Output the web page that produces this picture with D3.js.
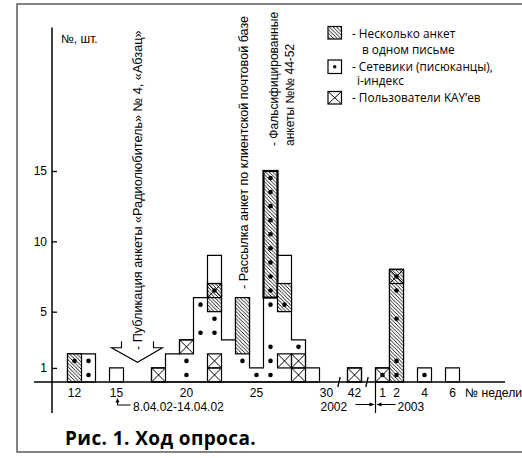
<!DOCTYPE html>
<html><head><meta charset="utf-8">
<script src="https://cdn.jsdelivr.net/npm/d3@7"></script>
<style>
html,body{margin:0;padding:0;background:#fff;}
svg{display:block;}
</style>
</head><body>
<svg id="chart" width="522" height="458"></svg>
<script>
// ---------------- data ----------------
const weekKeys = ["w12","w13","w14","w15","w16","w17","w18","w19","w20","w21","w22","w23","w24","w25","w26","w27","w28","w29","w30","br1","w42","br2","n1","n2","n3","n4","n5","n6"];
const tickKeys = ["w12","w15","w20","w25","w30","w42","n1","n2","n4","n6"];
const tickLabels = ["12","15","20","25","30","42","1","2","4","6"];
const totals = [2,2,0,1,0,0,1,2,3,6,9,3,6,1,15,9,3,1,0,0,1,0,1,8,0,1,0,1];
// "several questionnaires in one letter" (hatched blocks)
const hatchedWeeks = ["w12","w22","w24","w26","w27","n2"];
const hatchedFrom  = [0,5,2,6,5,0];
const hatchedTo    = [2,7,6,15,7,8];
// KAY users (crossed cells)
const crossWeeks = ["w18","w20","w22","w22","w22","w27","w28","w28","w42","n1","n2"];
const crossUnits = [0,2,0,1,6,1,0,1,0,0,7];
// networkers (dots)
const dotWeeks = ["w12","w13","w13","w20","w20","w21","w21","w22","w22","w22","w24","w25",
  "w26","w26","w26","w26","w26","w26","w26","w26","w26","w26","w26","w26","w26",
  "w27","w28","n1","n2","n2","n2","n2","n2","n4"];
const dotUnits = [1,0,1,0,1,3,5,3,4,6,1,0,
  0,1,2,5,6,7,8,9,10,11,12,13,14,
  5,2,0,0,1,4,6,7,0];
const yTicks = [1,5,10,15];
const breakKeys = ["br1","br2"];

// ---------------- drawing ----------------
const svg = d3.select("#chart");
const AX = "'Liberation Sans', Arial, sans-serif";
const LG = "'Open Sans', sans-serif";

const defs = svg.append("defs");
const pat = defs.append("pattern").attr("id","hatch").attr("patternUnits","userSpaceOnUse")
  .attr("width",3.6).attr("height",3.6);
pat.append("rect").attr("width",3.6).attr("height",3.6).attr("fill","#fff");
pat.append("path").attr("d","M-1,-1L4.6,4.6M-1,2.6L1,4.6M2.6,-1L4.6,1")
  .attr("stroke","#000").attr("stroke-width",0.9);

// frame
svg.append("rect").attr("x",17).attr("y",4).attr("width",540).attr("height",448)
  .attr("fill","none").attr("stroke","#666").attr("stroke-width",1.6);

const x = d3.scaleBand().domain(weekKeys).range([67.5,459.5]).paddingInner(0).paddingOuter(0);
const bw = x.bandwidth();
const y = d3.scaleLinear().domain([0,15]).range([382,171]);

const g = svg.append("g");

// step outline of totals
let runs = [], cur = null;
weekKeys.forEach((k,i)=>{ if(totals[i]>0){ if(!cur){cur=[];runs.push(cur);} cur.push(i);} else cur=null; });
runs.forEach(run=>{
  const p = d3.path();
  p.moveTo(x(weekKeys[run[0]]), y(0));
  run.forEach(i=>{ const k = weekKeys[i]; p.lineTo(x(k), y(totals[i])); p.lineTo(x(k)+bw, y(totals[i])); });
  p.lineTo(x(weekKeys[run[run.length-1]])+bw, y(0));
  p.closePath();
  g.append("path").attr("d",p.toString()).attr("fill","#fff").attr("stroke","#000").attr("stroke-width",1.2);
});

// hatched blocks
hatchedWeeks.forEach((k,i)=>{
  g.append("rect").attr("x",x(k)).attr("y",y(hatchedTo[i])).attr("width",bw)
    .attr("height",y(hatchedFrom[i])-y(hatchedTo[i]))
    .attr("fill","url(#hatch)").attr("stroke","#000").attr("stroke-width",k==="w26"?2.2:1.2);
});

// crossed cells
crossWeeks.forEach((k,i)=>{
  const x0=x(k), x1=x0+bw, yT=y(crossUnits[i]+1), yB=y(crossUnits[i]);
  g.append("rect").attr("x",x0).attr("y",yT).attr("width",bw).attr("height",yB-yT)
    .attr("fill","none").attr("stroke","#000").attr("stroke-width",1.2);
  g.append("path").attr("d",`M${x0},${yT}L${x1},${yB}M${x0},${yB}L${x1},${yT}`)
    .attr("stroke","#000").attr("stroke-width",1);
});

// dots
dotWeeks.forEach((k,i)=>{
  g.append("circle").attr("cx",x(k)+bw/2).attr("cy",y(dotUnits[i]+0.5)).attr("r",2.3).attr("fill","#000");
});

// y axis
const yAxis = d3.axisLeft(y).tickValues(yTicks).tickSizeInner(-5).tickSizeOuter(0).tickPadding(5);
const ya = svg.append("g").attr("transform",`translate(${52},0)`).call(yAxis);
ya.select(".domain").remove();
ya.selectAll(".tick line").attr("stroke","#000").attr("stroke-width",1.3);
ya.selectAll("text").attr("font-family",AX).attr("font-size",12).attr("fill","#000");
svg.append("line").attr("x1",52).attr("x2",52).attr("y1",y(-2.2)).attr("y2",y(25.2))
  .attr("stroke","#000").attr("stroke-width",1.5);

// x axis
const xAxis = d3.axisBottom(x).tickValues(tickKeys).tickFormat(k=>tickLabels[tickKeys.indexOf(k)])
  .tickSize(0).tickPadding(6.5);
const xa = svg.append("g").attr("transform",`translate(0,${y(0)})`).call(xAxis);
xa.select(".domain").remove();
xa.selectAll("text").attr("font-family",AX).attr("font-size",12).attr("fill","#000");
svg.append("line").attr("x1",34).attr("x2",505).attr("y1",y(0)).attr("y2",y(0))
  .attr("stroke","#000").attr("stroke-width",1.5);
// axis breaks
breakKeys.forEach(k=>{
  const cx = x(k)+bw/2-1.5;
  svg.append("line").attr("x1",cx-1.2).attr("y1",y(0)+5).attr("x2",cx+1.2).attr("y2",y(0)-5)
    .attr("stroke","#000").attr("stroke-width",1.3);
});
svg.append("text").attr("x",465).attr("y",397).attr("font-family",AX).attr("font-size",12.2).text("№ недели");

// 8.04.02-14.04.02 note
const ax15 = x("w15")+bw/2+1;
svg.append("path").attr("d",`M${ax15},400.5V405H${ax15+13}`).attr("fill","none").attr("stroke","#000").attr("stroke-width",1);
svg.append("path").attr("d",`M${ax15},398L${ax15-2},402.5L${ax15+2},402.5Z`).attr("fill","#000");
svg.append("text").attr("x",133).attr("y",411).attr("font-family",AX).attr("font-size",12).text("8.04.02-14.04.02");

// 2002 / 2003 divider
const dv = x("n1");
svg.append("line").attr("x1",dv).attr("x2",dv).attr("y1",y(0)).attr("y2",413).attr("stroke","#000").attr("stroke-width",1.2);
svg.append("line").attr("x1",dv-20).attr("x2",dv-2).attr("y1",404.5).attr("y2",404.5).attr("stroke","#000").attr("stroke-width",1);
svg.append("path").attr("d",`M${dv-1},404.5L${dv-6},402.5L${dv-6},406.5Z`).attr("fill","#000");
svg.append("line").attr("x1",dv+2).attr("x2",dv+20).attr("y1",404.5).attr("y2",404.5).attr("stroke","#000").attr("stroke-width",1);
svg.append("path").attr("d",`M${dv+1},404.5L${dv+6},402.5L${dv+6},406.5Z`).attr("fill","#000");
svg.append("text").attr("x",dv-55).attr("y",411).attr("font-family",AX).attr("font-size",12).text("2002");
svg.append("text").attr("x",dv+22).attr("y",411).attr("font-family",AX).attr("font-size",12).text("2003");

// y label
svg.append("text").attr("x",61).attr("y",43).attr("font-family",AX).attr("font-size",12).text("№, шт.");

// chevron arrow
const cx = x("w17");
svg.append("path").attr("d",`M${cx-16},${y(2.9)}V${y(2.43)}H${cx-26}L${cx},${y(1.4)}L${cx+25},${y(2.43)}H${cx+16}V${y(2.9)}`)
  .attr("fill","none").attr("stroke","#000").attr("stroke-width",1.1);

// rotated annotations
function vtext(bx, by, txt, fs){
  svg.append("text").attr("transform",`translate(${bx},${by}) rotate(-90)`)
    .attr("font-family",AX).attr("font-size",fs).attr("fill","#000").text(txt);
}
vtext(141.5, 350, "- Публикация анкеты «Радиолюбитель» № 4, «Абзац»", 12.7);
vtext(248, 289, "- Рассылка анкет по клиентской почтовой базе", 12.6);
vtext(277.5, 146, "- Фальсифицированные", 12);
vtext(294, 146, "анкеты №№ 44-52", 12);

// legend
const lg = svg.append("g");
lg.append("rect").attr("x",328).attr("y",26.5).attr("width",13.5).attr("height",12.5)
  .attr("fill","url(#hatch)").attr("stroke","#000").attr("stroke-width",1.2);
lg.append("rect").attr("x",328).attr("y",60).attr("width",13.5).attr("height",13.5)
  .attr("fill","#fff").attr("stroke","#000").attr("stroke-width",1.2);
lg.append("circle").attr("cx",334.75).attr("cy",66.75).attr("r",1.7).attr("fill","#000");
lg.append("rect").attr("x",328).attr("y",91.5).attr("width",13.5).attr("height",12.5)
  .attr("fill","#fff").attr("stroke","#000").attr("stroke-width",1.2);
lg.append("path").attr("d","M328,91.5L341.5,104M328,104L341.5,91.5").attr("stroke","#000").attr("stroke-width",1);
const legendLines = [
  [352,37.5,"- Несколько анкет"],
  [362,54,"в одном письме"],
  [352,70.5,"- Сетевики (писюканцы),"],
  [357,85,"i-индекс"],
  [352,102,"- Пользователи KAY’ев"]
];
legendLines.forEach(l=>{
  lg.append("text").attr("x",l[0]).attr("y",l[1]).attr("font-family",LG).attr("font-size",11.8).attr("fill","#000").text(l[2]);
});

// title
svg.append("text").attr("x",65).attr("y",445).attr("font-family",LG).attr("font-weight",700)
  .attr("font-size",19).attr("letter-spacing",0.4).attr("fill","#000").text("Рис. 1. Ход опроса.");
</script>
</body></html>
